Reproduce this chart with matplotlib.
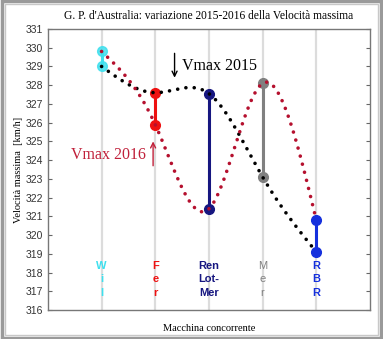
import matplotlib
matplotlib.use("Agg")
import matplotlib.pyplot as plt
import numpy as np
from matplotlib.patches import Rectangle

# Velocità massima [km/h] per macchina concorrente
teams = ["W\ni\nl", "F\ne\nr", "Ren\nLot-\nMer", "M\ne\nr", "R\nB\nR"]
team_colors = ["#3ee0ee", "#ee1111", "#161680", "#808080", "#1530dd"]
team_bold = [True, True, True, False, True]
vmax_2015 = [329.0, 327.6, 327.55, 323.1, 319.1]
vmax_2016 = [329.8, 325.9, 321.4, 328.1, 320.8]


def natural_spline(x, y):
    # natural cubic spline (zero second derivative at both ends)
    x = np.asarray(x, float)
    y = np.asarray(y, float)
    n = len(x)
    h = np.diff(x)
    A = np.zeros((n, n))
    d = np.zeros(n)
    A[0, 0] = A[-1, -1] = 1
    for i in range(1, n - 1):
        A[i, i - 1] = h[i - 1]
        A[i, i] = 2 * (h[i - 1] + h[i])
        A[i, i + 1] = h[i]
        d[i] = 6 * ((y[i + 1] - y[i]) / h[i] - (y[i] - y[i - 1]) / h[i - 1])
    M = np.linalg.solve(A, d)

    def f(t):
        t = np.asarray(t, float)
        k = np.clip(np.searchsorted(x, t, side="right") - 1, 0, n - 2)
        hk = h[k]
        a = x[k + 1] - t
        b = t - x[k]
        return (M[k] * a ** 3 + M[k + 1] * b ** 3) / (6 * hk) \
            + (y[k] / hk - M[k] * hk / 6) * a + (y[k + 1] / hk - M[k + 1] * hk / 6) * b
    return f


pos = np.arange(1, len(teams) + 1)
xs = np.linspace(1, len(teams), 400)

fig = plt.figure(figsize=(3.83, 3.39), dpi=100)
ax = fig.add_axes([0.125, 0.0855, 0.841, 0.829])

for p in pos:
    ax.axvline(p, color="#dcdcdc", lw=1.6, zorder=0)

for p, c, a, b in zip(pos, team_colors, vmax_2015, vmax_2016):
    ax.plot([p, p], [a, b], color=c, lw=2.2, zorder=2)
    ax.plot([p, p], [a, b], "o", color=c, ms=7, mec=c, zorder=3,
            alpha=0.85 if c == "#3ee0ee" else 1)

dots = dict(lw=2.6, ls=(0, (0.01, 2.3)), dash_capstyle="round", zorder=4)
ax.plot(xs, natural_spline(pos, vmax_2015)(xs), color="black", **dots)
ax.plot(xs, natural_spline(pos, vmax_2016)(xs), color="#b5102e", **dots)

for p, t, c, bold in zip(pos, teams, team_colors, team_bold):
    ax.text(p, 317.65, t, color=c, ha="center", va="center", fontsize=8,
            fontweight="bold" if bold else "normal", linespacing=1.45,
            family=["Liberation Sans Narrow", "Liberation Sans", "DejaVu Sans"])

serif = ["Liberation Serif", "DejaVu Serif"]
ax.annotate("", xy=(2.36, 328.4), xytext=(2.36, 329.7),
            arrowprops=dict(arrowstyle="->", lw=1.0, color="black",
                            shrinkA=0, shrinkB=0, mutation_scale=9))
ax.text(2.5, 329.05, "Vmax 2015", fontsize=11.5, family=serif,
        color="black", va="center", ha="left")
ax.annotate("", xy=(1.96, 325.0), xytext=(1.96, 323.7),
            arrowprops=dict(arrowstyle="->", lw=1.0, color="#c0203a",
                            shrinkA=0, shrinkB=0, mutation_scale=9))
ax.text(1.82, 324.3, "Vmax 2016", fontsize=11.5, family=serif,
        color="#c0203a", va="center", ha="right")

ax.set_xlim(0, 6)
ax.set_ylim(316, 331)
ax.set_xticks(pos)
ax.set_xticklabels([])
ax.set_yticks(np.arange(316, 332))
ax.tick_params(axis="x", length=0)
ax.tick_params(axis="y", direction="in", length=3, right=True, labelsize=7.5,
               labelcolor="#333333", color="#666666")
for lab in ax.get_yticklabels():
    lab.set_family(["Liberation Sans", "DejaVu Sans"])
for s in ax.spines.values():
    s.set_color("#777777")
    s.set_linewidth(1.0)

ax.set_ylabel("Velocità massima  [km/h]", fontsize=7.5, family=serif, labelpad=2)
fig.text(0.546, 0.032, "Macchina concorrente", fontsize=7.5, ha="center", va="center",
         family=serif)
ax.set_title("G. P. d'Australia: variazione 2015-2016 della Velocità massima", fontsize=8.3,
             family=serif, pad=7)

# frame around the whole figure
fig.patches.append(Rectangle((0.004, 0.004), 0.992, 0.992, transform=fig.transFigure,
                             fill=False, ec="#9a9a9a", lw=2.5))
fig.patches.append(Rectangle((0.012, 0.012), 0.976, 0.976, transform=fig.transFigure,
                             fill=False, ec="#c8c8c8", lw=1))

fig.savefig("out.png", dpi=100)
